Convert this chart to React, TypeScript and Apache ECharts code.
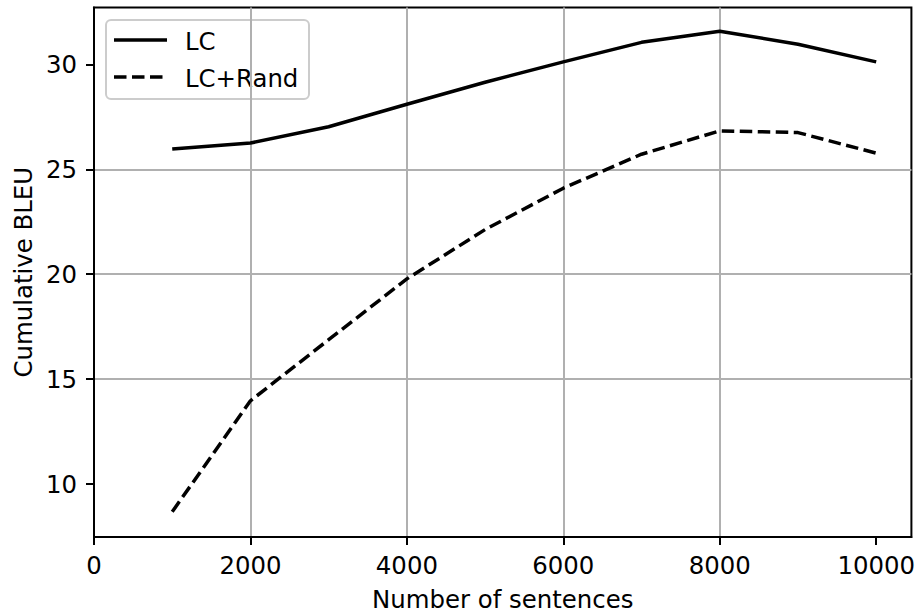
import React, { useEffect, useRef } from "react";
import * as echarts from "echarts";

const sentences = [1000, 2000, 3000, 4000, 5000, 6000, 7000, 8000, 9000, 10000];
const lcBleu = [25.97, 26.25, 27.03, 28.1, 29.15, 30.12, 31.05, 31.58, 30.96, 30.12];
const lcRandBleu = [8.68, 13.97, 16.88, 19.78, 22.13, 24.1, 25.72, 26.83, 26.75, 25.77];
const xTickValues = [0, 2000, 4000, 6000, 8000, 10000];
const yTickValues = [10, 15, 20, 25, 30];
const seriesNames = ["LC", "LC+Rand"];

const FONT = "DejaVu Sans";
const FS = 24.4;

export default function App() {
  const ref = useRef<HTMLDivElement>(null);
  useEffect(() => {
    if (!ref.current) return;
    const chart = echarts.init(ref.current, null, { renderer: "svg" });
    const option: any = {
      animation: false,
      backgroundColor: "#ffffff",
      textStyle: { fontFamily: FONT },
      grid: {
        left: 94,
        top: 7.5,
        right: 5,
        bottom: 73,
        show: true,
        borderColor: "#000000",
        borderWidth: 2,
        backgroundColor: "transparent",
        containLabel: false,
      },
      xAxis: {
        type: "value",
        min: 0,
        max: 10450,
        name: "Number of sentences",
        nameLocation: "middle",
        nameGap: 50,
        nameTextStyle: { fontFamily: FONT, fontSize: FS, color: "#000" },
        axisLine: { show: true, lineStyle: { color: "#000", width: 2 } },
        axisTick: {
          show: true,
          inside: false,
          length: 8,
          customValues: xTickValues,
          lineStyle: { color: "#000", width: 2 },
        },
        axisLabel: {
          customValues: xTickValues,
          formatter: (v: number) => String(v),
          margin: 16,
          fontFamily: FONT,
          fontSize: FS,
          color: "#000",
        },
        splitLine: {
          show: true,
          showMinLine: false,
          showMaxLine: false,
          lineStyle: { color: "#b0b0b0", width: 2 },
        },
      },
      yAxis: {
        type: "value",
        min: 7.48,
        max: 32.71,
        name: "Cumulative BLEU",
        nameLocation: "middle",
        nameRotate: 90,
        nameGap: 58,
        nameTextStyle: { fontFamily: FONT, fontSize: FS, color: "#000" },
        axisLine: { show: true, lineStyle: { color: "#000", width: 2 } },
        axisTick: {
          show: true,
          inside: false,
          length: 8,
          customValues: yTickValues,
          lineStyle: { color: "#000", width: 2 },
        },
        axisLabel: {
          customValues: yTickValues,
          formatter: (v: number) => String(v),
          margin: 17,
          fontFamily: FONT,
          fontSize: FS,
          color: "#000",
        },
        splitLine: {
          show: true,
          showMinLine: false,
          showMaxLine: false,
          lineStyle: { color: "#b0b0b0", width: 2 },
        },
      },
      series: [
        {
          name: seriesNames[0],
          type: "line",
          data: sentences.map((x, i) => [x, lcBleu[i]]),
          symbol: "none",
          lineStyle: { color: "#000", width: 3.5, type: "solid", cap: "butt", join: "round" },
          z: 3,
        },
        {
          name: seriesNames[1],
          type: "line",
          data: sentences.map((x, i) => [x, lcRandBleu[i]]),
          symbol: "none",
          lineStyle: { color: "#000", width: 3.5, type: [12.5, 5.5], cap: "butt", join: "round" },
          z: 3,
        },
      ],
      graphic: [
        {
          type: "group",
          z: 100,
          children: [
            {
              type: "rect",
              shape: { x: 106, y: 20, width: 203, height: 79, r: 5 },
              style: { fill: "rgba(255,255,255,0.8)", stroke: "#cccccc", lineWidth: 2 },
            },
            {
              type: "line",
              shape: { x1: 114, y1: 40, x2: 167, y2: 40 },
              style: { stroke: "#000", lineWidth: 3.5 },
            },
            {
              type: "line",
              shape: { x1: 114, y1: 77, x2: 167, y2: 77 },
              style: { stroke: "#000", lineWidth: 3.5, lineDash: [12.5, 5.5] },
            },
            {
              type: "text",
              x: 185,
              y: 41,
              style: {
                text: seriesNames[0],
                fontFamily: FONT,
                fontSize: FS,
                fill: "#000",
                verticalAlign: "middle",
                align: "left",
              },
            },
            {
              type: "text",
              x: 185,
              y: 78,
              style: {
                text: seriesNames[1],
                fontFamily: FONT,
                fontSize: FS,
                fill: "#000",
                verticalAlign: "middle",
                align: "left",
              },
            },
          ],
        },
      ],
    };
    chart.setOption(option);
    return () => chart.dispose();
  }, []);
  return <div ref={ref} style={{ width: 918, height: 616, position: "absolute", left: 0, top: 0 }} />;
}
